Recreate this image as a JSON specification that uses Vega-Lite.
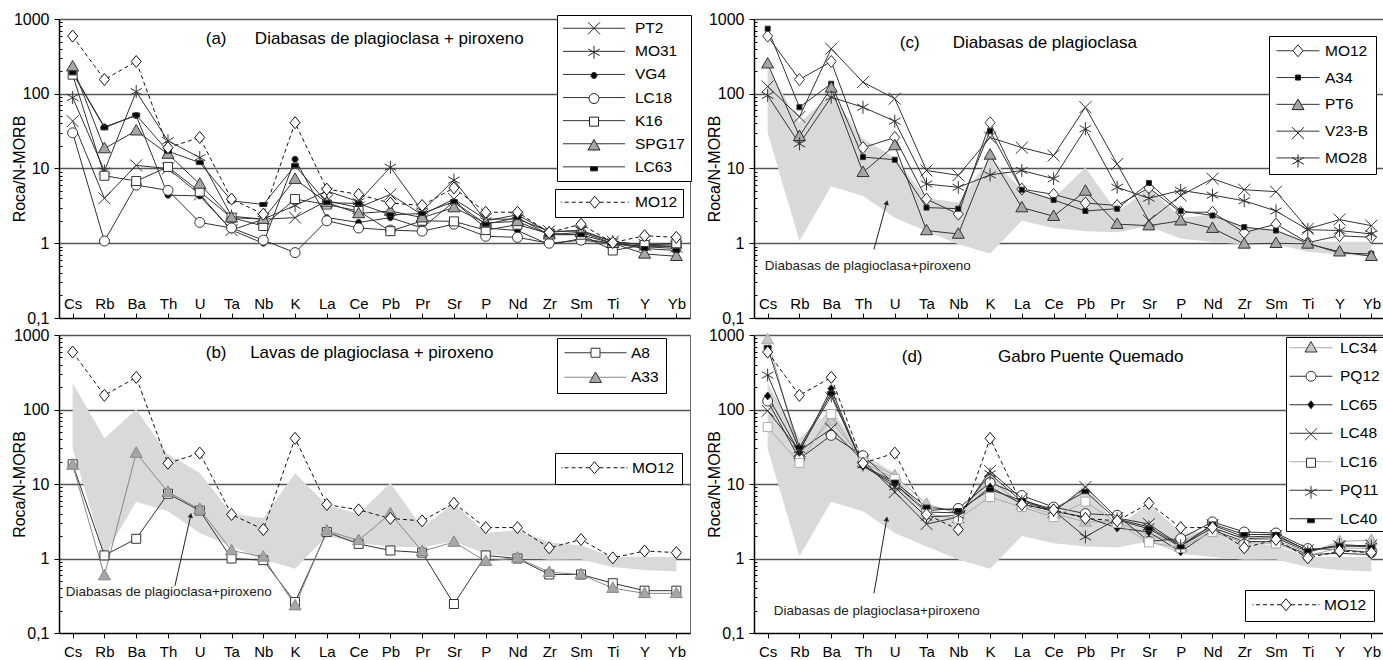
{
"$schema": "https://vega.github.io/schema/vega-lite/v6.json",
"background": "white",
"padding": {"left": 10, "top": 10, "right": 0, "bottom": 0},
"autosize": {"type": "pad"},
"config": {"view": {"stroke": "#666", "strokeWidth": 1}, "font": "Liberation Sans"},
"datasets": {
"a": [
{"s":"PT2","el":"Cs","v":43},{"s":"PT2","el":"Rb","v":4},{"s":"PT2","el":"Ba","v":11},{"s":"PT2","el":"Th","v":10},{"s":"PT2","el":"U","v":4.5},{"s":"PT2","el":"Ta","v":1.5},{"s":"PT2","el":"Nb","v":2.1},{"s":"PT2","el":"K","v":2.2},{"s":"PT2","el":"La","v":3.7},{"s":"PT2","el":"Ce","v":3},{"s":"PT2","el":"Pb","v":4.5},{"s":"PT2","el":"Pr","v":2.4},{"s":"PT2","el":"Sr","v":3.9},{"s":"PT2","el":"P","v":2.1},{"s":"PT2","el":"Nd","v":2.1},{"s":"PT2","el":"Zr","v":1.45},{"s":"PT2","el":"Sm","v":1.45},{"s":"PT2","el":"Ti","v":1.05},{"s":"PT2","el":"Y","v":0.95},{"s":"PT2","el":"Yb","v":0.9},
{"s":"MO31","el":"Cs","v":89},{"s":"MO31","el":"Rb","v":9.3},{"s":"MO31","el":"Ba","v":107},{"s":"MO31","el":"Th","v":23.5},{"s":"MO31","el":"U","v":14},{"s":"MO31","el":"Ta","v":2.3},{"s":"MO31","el":"Nb","v":2.1},{"s":"MO31","el":"K","v":3.2},{"s":"MO31","el":"La","v":5},{"s":"MO31","el":"Ce","v":3.6},{"s":"MO31","el":"Pb","v":10.4},{"s":"MO31","el":"Pr","v":2.7},{"s":"MO31","el":"Sr","v":7},{"s":"MO31","el":"P","v":2},{"s":"MO31","el":"Nd","v":2.4},{"s":"MO31","el":"Zr","v":1.4},{"s":"MO31","el":"Sm","v":1.5},{"s":"MO31","el":"Ti","v":1.05},{"s":"MO31","el":"Y","v":0.95},{"s":"MO31","el":"Yb","v":0.95},
{"s":"VG4","el":"Cs","v":193},{"s":"VG4","el":"Rb","v":36},{"s":"VG4","el":"Ba","v":51},{"s":"VG4","el":"Th","v":4.4},{"s":"VG4","el":"U","v":4.3},{"s":"VG4","el":"Ta","v":1.5},{"s":"VG4","el":"Nb","v":1},{"s":"VG4","el":"K","v":13.3},{"s":"VG4","el":"La","v":2.2},{"s":"VG4","el":"Ce","v":1.9},{"s":"VG4","el":"Pb","v":2.2},{"s":"VG4","el":"Pr","v":1.6},{"s":"VG4","el":"Sr","v":3.6},{"s":"VG4","el":"P","v":1.6},{"s":"VG4","el":"Nd","v":1.48},{"s":"VG4","el":"Zr","v":0.96},{"s":"VG4","el":"Sm","v":1.15},{"s":"VG4","el":"Ti","v":1},{"s":"VG4","el":"Y","v":0.9},{"s":"VG4","el":"Yb","v":0.85},
{"s":"LC18","el":"Cs","v":30},{"s":"LC18","el":"Rb","v":1.07},{"s":"LC18","el":"Ba","v":6},{"s":"LC18","el":"Th","v":5.1},{"s":"LC18","el":"U","v":1.9},{"s":"LC18","el":"Ta","v":1.6},{"s":"LC18","el":"Nb","v":1.1},{"s":"LC18","el":"K","v":0.75},{"s":"LC18","el":"La","v":2},{"s":"LC18","el":"Ce","v":1.6},{"s":"LC18","el":"Pb","v":1.5},{"s":"LC18","el":"Pr","v":1.45},{"s":"LC18","el":"Sr","v":1.8},{"s":"LC18","el":"P","v":1.24},{"s":"LC18","el":"Nd","v":1.2},{"s":"LC18","el":"Zr","v":1},{"s":"LC18","el":"Sm","v":1.1},{"s":"LC18","el":"Ti","v":1},{"s":"LC18","el":"Y","v":0.9},{"s":"LC18","el":"Yb","v":0.9},
{"s":"K16","el":"Cs","v":180},{"s":"K16","el":"Rb","v":8},{"s":"K16","el":"Ba","v":6.8},{"s":"K16","el":"Th","v":10.5},{"s":"K16","el":"U","v":4.9},{"s":"K16","el":"Ta","v":2.2},{"s":"K16","el":"Nb","v":1.7},{"s":"K16","el":"K","v":3.9},{"s":"K16","el":"La","v":3.3},{"s":"K16","el":"Ce","v":2.7},{"s":"K16","el":"Pb","v":1.45},{"s":"K16","el":"Pr","v":2},{"s":"K16","el":"Sr","v":1.96},{"s":"K16","el":"P","v":1.5},{"s":"K16","el":"Nd","v":1.77},{"s":"K16","el":"Zr","v":1.35},{"s":"K16","el":"Sm","v":1.3},{"s":"K16","el":"Ti","v":0.8},{"s":"K16","el":"Y","v":0.95},{"s":"K16","el":"Yb","v":1},
{"s":"SPG17","el":"Cs","v":230},{"s":"SPG17","el":"Rb","v":18.5},{"s":"SPG17","el":"Ba","v":32},{"s":"SPG17","el":"Th","v":15.6},{"s":"SPG17","el":"U","v":6.2},{"s":"SPG17","el":"Ta","v":2.2},{"s":"SPG17","el":"Nb","v":2.1},{"s":"SPG17","el":"K","v":7.2},{"s":"SPG17","el":"La","v":3.5},{"s":"SPG17","el":"Ce","v":2.5},{"s":"SPG17","el":"Pb","v":2.7},{"s":"SPG17","el":"Pr","v":2.2},{"s":"SPG17","el":"Sr","v":3},{"s":"SPG17","el":"P","v":1.87},{"s":"SPG17","el":"Nd","v":1.96},{"s":"SPG17","el":"Zr","v":1.3},{"s":"SPG17","el":"Sm","v":1.4},{"s":"SPG17","el":"Ti","v":1},{"s":"SPG17","el":"Y","v":0.72},{"s":"SPG17","el":"Yb","v":0.67},
{"s":"LC63","el":"Cs","v":190},{"s":"LC63","el":"Rb","v":35},{"s":"LC63","el":"Ba","v":52},{"s":"LC63","el":"Th","v":17},{"s":"LC63","el":"U","v":12},{"s":"LC63","el":"Ta","v":3.7},{"s":"LC63","el":"Nb","v":3.3},{"s":"LC63","el":"K","v":10.9},{"s":"LC63","el":"La","v":3.5},{"s":"LC63","el":"Ce","v":3.4},{"s":"LC63","el":"Pb","v":2.4},{"s":"LC63","el":"Pr","v":2.5},{"s":"LC63","el":"Sr","v":3.6},{"s":"LC63","el":"P","v":1.8},{"s":"LC63","el":"Nd","v":2.2},{"s":"LC63","el":"Zr","v":1.3},{"s":"LC63","el":"Sm","v":1.3},{"s":"LC63","el":"Ti","v":1},{"s":"LC63","el":"Y","v":0.85},{"s":"LC63","el":"Yb","v":0.8}
],
"b": [
{"s":"A8","el":"Cs","v":18.4},{"s":"A8","el":"Rb","v":1.1},{"s":"A8","el":"Ba","v":1.84},{"s":"A8","el":"Th","v":7.4},{"s":"A8","el":"U","v":4.4},{"s":"A8","el":"Ta","v":1},{"s":"A8","el":"Nb","v":0.95},{"s":"A8","el":"K","v":0.26},{"s":"A8","el":"La","v":2.26},{"s":"A8","el":"Ce","v":1.57},{"s":"A8","el":"Pb","v":1.28},{"s":"A8","el":"Pr","v":1.2},{"s":"A8","el":"Sr","v":0.245},{"s":"A8","el":"P","v":1.1},{"s":"A8","el":"Nd","v":1},{"s":"A8","el":"Zr","v":0.61},{"s":"A8","el":"Sm","v":0.61},{"s":"A8","el":"Ti","v":0.466},{"s":"A8","el":"Y","v":0.37},{"s":"A8","el":"Yb","v":0.37},
{"s":"A33","el":"Cs","v":18},{"s":"A33","el":"Rb","v":0.59},{"s":"A33","el":"Ba","v":26},{"s":"A33","el":"Th","v":7.8},{"s":"A33","el":"U","v":4.6},{"s":"A33","el":"Ta","v":1.28},{"s":"A33","el":"Nb","v":1.05},{"s":"A33","el":"K","v":0.233},{"s":"A33","el":"La","v":2.35},{"s":"A33","el":"Ce","v":1.75},{"s":"A33","el":"Pb","v":4},{"s":"A33","el":"Pr","v":1.25},{"s":"A33","el":"Sr","v":1.66},{"s":"A33","el":"P","v":0.92},{"s":"A33","el":"Nd","v":1.02},{"s":"A33","el":"Zr","v":0.655},{"s":"A33","el":"Sm","v":0.61},{"s":"A33","el":"Ti","v":0.4},{"s":"A33","el":"Y","v":0.34},{"s":"A33","el":"Yb","v":0.34}
],
"c": [
{"s":"MO12","el":"Cs","v":590},{"s":"MO12","el":"Rb","v":155},{"s":"MO12","el":"Ba","v":270},{"s":"MO12","el":"Th","v":19},{"s":"MO12","el":"U","v":26},{"s":"MO12","el":"Ta","v":3.9},{"s":"MO12","el":"Nb","v":2.45},{"s":"MO12","el":"K","v":41},{"s":"MO12","el":"La","v":5.3},{"s":"MO12","el":"Ce","v":4.5},{"s":"MO12","el":"Pb","v":3.45},{"s":"MO12","el":"Pr","v":3.2},{"s":"MO12","el":"Sr","v":5.5},{"s":"MO12","el":"P","v":2.6},{"s":"MO12","el":"Nd","v":2.6},{"s":"MO12","el":"Zr","v":1.39},{"s":"MO12","el":"Sm","v":1.8},{"s":"MO12","el":"Ti","v":1.02},{"s":"MO12","el":"Y","v":1.26},{"s":"MO12","el":"Yb","v":1.2},
{"s":"A34","el":"Cs","v":742},{"s":"A34","el":"Rb","v":66},{"s":"A34","el":"Ba","v":136},{"s":"A34","el":"Th","v":14.2},{"s":"A34","el":"U","v":13.1},{"s":"A34","el":"Ta","v":3},{"s":"A34","el":"Nb","v":2.9},{"s":"A34","el":"K","v":31.6},{"s":"A34","el":"La","v":5.2},{"s":"A34","el":"Ce","v":3.8},{"s":"A34","el":"Pb","v":2.7},{"s":"A34","el":"Pr","v":2.9},{"s":"A34","el":"Sr","v":6.4},{"s":"A34","el":"P","v":2.7},{"s":"A34","el":"Nd","v":2.35},{"s":"A34","el":"Zr","v":1.64},{"s":"A34","el":"Sm","v":1.48},{"s":"A34","el":"Ti","v":1},{"s":"A34","el":"Y","v":0.74},{"s":"A34","el":"Yb","v":0.72},
{"s":"PT6","el":"Cs","v":252},{"s":"PT6","el":"Rb","v":27},{"s":"PT6","el":"Ba","v":120},{"s":"PT6","el":"Th","v":8.9},{"s":"PT6","el":"U","v":20.3},{"s":"PT6","el":"Ta","v":1.48},{"s":"PT6","el":"Nb","v":1.33},{"s":"PT6","el":"K","v":15.2},{"s":"PT6","el":"La","v":3},{"s":"PT6","el":"Ce","v":2.3},{"s":"PT6","el":"Pb","v":5},{"s":"PT6","el":"Pr","v":1.8},{"s":"PT6","el":"Sr","v":1.72},{"s":"PT6","el":"P","v":2},{"s":"PT6","el":"Nd","v":1.59},{"s":"PT6","el":"Zr","v":0.98},{"s":"PT6","el":"Sm","v":1},{"s":"PT6","el":"Ti","v":0.98},{"s":"PT6","el":"Y","v":0.77},{"s":"PT6","el":"Yb","v":0.67},
{"s":"V23-B","el":"Cs","v":125},{"s":"V23-B","el":"Rb","v":49},{"s":"V23-B","el":"Ba","v":400},{"s":"V23-B","el":"Th","v":143},{"s":"V23-B","el":"U","v":86},{"s":"V23-B","el":"Ta","v":9.4},{"s":"V23-B","el":"Nb","v":8.1},{"s":"V23-B","el":"K","v":26},{"s":"V23-B","el":"La","v":19},{"s":"V23-B","el":"Ce","v":14.9},{"s":"V23-B","el":"Pb","v":66},{"s":"V23-B","el":"Pr","v":11.5},{"s":"V23-B","el":"Sr","v":2},{"s":"V23-B","el":"P","v":4.35},{"s":"V23-B","el":"Nd","v":7.3},{"s":"V23-B","el":"Zr","v":5.2},{"s":"V23-B","el":"Sm","v":4.9},{"s":"V23-B","el":"Ti","v":1.56},{"s":"V23-B","el":"Y","v":2.07},{"s":"V23-B","el":"Yb","v":1.72},
{"s":"MO28","el":"Cs","v":95},{"s":"MO28","el":"Rb","v":21.4},{"s":"MO28","el":"Ba","v":90},{"s":"MO28","el":"Th","v":66},{"s":"MO28","el":"U","v":43},{"s":"MO28","el":"Ta","v":6.2},{"s":"MO28","el":"Nb","v":5.6},{"s":"MO28","el":"K","v":8.2},{"s":"MO28","el":"La","v":9.4},{"s":"MO28","el":"Ce","v":7.3},{"s":"MO28","el":"Pb","v":34},{"s":"MO28","el":"Pr","v":5.6},{"s":"MO28","el":"Sr","v":4},{"s":"MO28","el":"P","v":5.1},{"s":"MO28","el":"Nd","v":4.4},{"s":"MO28","el":"Zr","v":3.7},{"s":"MO28","el":"Sm","v":2.7},{"s":"MO28","el":"Ti","v":1.52},{"s":"MO28","el":"Y","v":1.48},{"s":"MO28","el":"Yb","v":1.33}
],
"d": [
{"s":"LC34","el":"Cs","v":870},{"s":"LC34","el":"Rb","v":25},{"s":"LC34","el":"Ba","v":70},{"s":"LC34","el":"Th","v":21.7},{"s":"LC34","el":"U","v":13},{"s":"LC34","el":"Ta","v":5.4},{"s":"LC34","el":"Nb","v":4},{"s":"LC34","el":"K","v":11.7},{"s":"LC34","el":"La","v":5.2},{"s":"LC34","el":"Ce","v":4},{"s":"LC34","el":"Pb","v":3.1},{"s":"LC34","el":"Pr","v":3.1},{"s":"LC34","el":"Sr","v":2.05},{"s":"LC34","el":"P","v":1.67},{"s":"LC34","el":"Nd","v":2.65},{"s":"LC34","el":"Zr","v":1.8},{"s":"LC34","el":"Sm","v":1.8},{"s":"LC34","el":"Ti","v":1.17},{"s":"LC34","el":"Y","v":1.7},{"s":"LC34","el":"Yb","v":1.76},
{"s":"PQ12","el":"Cs","v":130},{"s":"PQ12","el":"Rb","v":21.7},{"s":"PQ12","el":"Ba","v":45},{"s":"PQ12","el":"Th","v":24},{"s":"PQ12","el":"U","v":10},{"s":"PQ12","el":"Ta","v":4.4},{"s":"PQ12","el":"Nb","v":4.7},{"s":"PQ12","el":"K","v":10.4},{"s":"PQ12","el":"La","v":7},{"s":"PQ12","el":"Ce","v":4.9},{"s":"PQ12","el":"Pb","v":4},{"s":"PQ12","el":"Pr","v":3.8},{"s":"PQ12","el":"Sr","v":1.7},{"s":"PQ12","el":"P","v":1.85},{"s":"PQ12","el":"Nd","v":3.1},{"s":"PQ12","el":"Zr","v":2.27},{"s":"PQ12","el":"Sm","v":2.2},{"s":"PQ12","el":"Ti","v":1.36},{"s":"PQ12","el":"Y","v":1.32},{"s":"PQ12","el":"Yb","v":1.2},
{"s":"LC65","el":"Cs","v":152},{"s":"LC65","el":"Rb","v":26.6},{"s":"LC65","el":"Ba","v":190},{"s":"LC65","el":"Th","v":17.3},{"s":"LC65","el":"U","v":10},{"s":"LC65","el":"Ta","v":4.2},{"s":"LC65","el":"Nb","v":4.1},{"s":"LC65","el":"K","v":9.1},{"s":"LC65","el":"La","v":5.4},{"s":"LC65","el":"Ce","v":4.3},{"s":"LC65","el":"Pb","v":3.6},{"s":"LC65","el":"Pr","v":2.57},{"s":"LC65","el":"Sr","v":2.27},{"s":"LC65","el":"P","v":1.23},{"s":"LC65","el":"Nd","v":2.4},{"s":"LC65","el":"Zr","v":1.7},{"s":"LC65","el":"Sm","v":1.67},{"s":"LC65","el":"Ti","v":1.13},{"s":"LC65","el":"Y","v":1.17},{"s":"LC65","el":"Yb","v":1.13},
{"s":"LC48","el":"Cs","v":96},{"s":"LC48","el":"Rb","v":28},{"s":"LC48","el":"Ba","v":55},{"s":"LC48","el":"Th","v":20.6},{"s":"LC48","el":"U","v":7.8},{"s":"LC48","el":"Ta","v":2.9},{"s":"LC48","el":"Nb","v":3.6},{"s":"LC48","el":"K","v":15},{"s":"LC48","el":"La","v":6.3},{"s":"LC48","el":"Ce","v":4.2},{"s":"LC48","el":"Pb","v":9.1},{"s":"LC48","el":"Pr","v":3.5},{"s":"LC48","el":"Sr","v":2.9},{"s":"LC48","el":"P","v":1.5},{"s":"LC48","el":"Nd","v":2.8},{"s":"LC48","el":"Zr","v":1.95},{"s":"LC48","el":"Sm","v":2},{"s":"LC48","el":"Ti","v":1.29},{"s":"LC48","el":"Y","v":1.46},{"s":"LC48","el":"Yb","v":1.5},
{"s":"LC16","el":"Cs","v":58},{"s":"LC16","el":"Rb","v":19.2},{"s":"LC16","el":"Ba","v":87},{"s":"LC16","el":"Th","v":19.5},{"s":"LC16","el":"U","v":11.7},{"s":"LC16","el":"Ta","v":4},{"s":"LC16","el":"Nb","v":3.4},{"s":"LC16","el":"K","v":6.7},{"s":"LC16","el":"La","v":4.9},{"s":"LC16","el":"Ce","v":3.6},{"s":"LC16","el":"Pb","v":5.8},{"s":"LC16","el":"Pr","v":3},{"s":"LC16","el":"Sr","v":1.64},{"s":"LC16","el":"P","v":1.39},{"s":"LC16","el":"Nd","v":2.27},{"s":"LC16","el":"Zr","v":1.64},{"s":"LC16","el":"Sm","v":1.59},{"s":"LC16","el":"Ti","v":1.09},{"s":"LC16","el":"Y","v":1.39},{"s":"LC16","el":"Yb","v":1.36},
{"s":"PQ11","el":"Cs","v":290},{"s":"PQ11","el":"Rb","v":29},{"s":"PQ11","el":"Ba","v":152},{"s":"PQ11","el":"Th","v":18},{"s":"PQ11","el":"U","v":9.1},{"s":"PQ11","el":"Ta","v":3.6},{"s":"PQ11","el":"Nb","v":3.8},{"s":"PQ11","el":"K","v":13.7},{"s":"PQ11","el":"La","v":5.8},{"s":"PQ11","el":"Ce","v":4.4},{"s":"PQ11","el":"Pb","v":1.95},{"s":"PQ11","el":"Pr","v":3.4},{"s":"PQ11","el":"Sr","v":2.65},{"s":"PQ11","el":"P","v":1.48},{"s":"PQ11","el":"Nd","v":2.57},{"s":"PQ11","el":"Zr","v":1.85},{"s":"PQ11","el":"Sm","v":1.9},{"s":"PQ11","el":"Ti","v":1.23},{"s":"PQ11","el":"Y","v":1.54},{"s":"PQ11","el":"Yb","v":1.46},
{"s":"LC40","el":"Cs","v":680},{"s":"LC40","el":"Rb","v":31},{"s":"LC40","el":"Ba","v":165},{"s":"LC40","el":"Th","v":17.6},{"s":"LC40","el":"U","v":10.6},{"s":"LC40","el":"Ta","v":4.9},{"s":"LC40","el":"Nb","v":4.4},{"s":"LC40","el":"K","v":8.4},{"s":"LC40","el":"La","v":6},{"s":"LC40","el":"Ce","v":4.6},{"s":"LC40","el":"Pb","v":7.9},{"s":"LC40","el":"Pr","v":3.3},{"s":"LC40","el":"Sr","v":2.5},{"s":"LC40","el":"P","v":1.43},{"s":"LC40","el":"Nd","v":2.9},{"s":"LC40","el":"Zr","v":2.1},{"s":"LC40","el":"Sm","v":2.1},{"s":"LC40","el":"Ti","v":1.27},{"s":"LC40","el":"Y","v":1.5},{"s":"LC40","el":"Yb","v":1.42}
],
"mo12": [
{"s":"MO12","el":"Cs","v":590},{"s":"MO12","el":"Rb","v":155},{"s":"MO12","el":"Ba","v":270},{"s":"MO12","el":"Th","v":19},{"s":"MO12","el":"U","v":26},{"s":"MO12","el":"Ta","v":3.9},{"s":"MO12","el":"Nb","v":2.45},{"s":"MO12","el":"K","v":41},{"s":"MO12","el":"La","v":5.3},{"s":"MO12","el":"Ce","v":4.5},{"s":"MO12","el":"Pb","v":3.45},{"s":"MO12","el":"Pr","v":3.2},{"s":"MO12","el":"Sr","v":5.5},{"s":"MO12","el":"P","v":2.6},{"s":"MO12","el":"Nd","v":2.6},{"s":"MO12","el":"Zr","v":1.39},{"s":"MO12","el":"Sm","v":1.8},{"s":"MO12","el":"Ti","v":1.02},{"s":"MO12","el":"Y","v":1.26},{"s":"MO12","el":"Yb","v":1.2}
],
"env": [
{"el":"Cs","lo":30,"hi":225},{"el":"Rb","lo":1.07,"hi":41},{"el":"Ba","lo":5.8,"hi":100},{"el":"Th","lo":4.3,"hi":25},{"el":"U","lo":2.2,"hi":14},{"el":"Ta","lo":1.45,"hi":4},{"el":"Nb","lo":0.97,"hi":3.5},{"el":"K","lo":0.73,"hi":14},{"el":"La","lo":2,"hi":5.2},{"el":"Ce","lo":1.6,"hi":4},{"el":"Pb","lo":1.45,"hi":10.3},{"el":"Pr","lo":1.4,"hi":2.6},{"el":"Sr","lo":1.7,"hi":5.5},{"el":"P","lo":1.15,"hi":2.2},{"el":"Nd","lo":1.05,"hi":2.4},{"el":"Zr","lo":0.96,"hi":1.65},{"el":"Sm","lo":0.97,"hi":1.5},{"el":"Ti","lo":0.77,"hi":1.05},{"el":"Y","lo":0.7,"hi":1.05},{"el":"Yb","lo":0.67,"hi":1.05}
],
"note": [{"t": "Diabasas de plagioclasa+piroxeno"}]
},
"columns": 2,
"spacing": {"row": 17, "column": 64},
"bounds": "flush",
"resolve": {"scale": {"x": "independent", "y": "independent", "shape": "independent", "fill": "independent", "stroke": "independent", "strokeDash": "independent"}},
"concat": [
{
"width": 631, "height": 299,
"layer": [
{"data": {"name": "a"}, "mark": {"type": "line", "strokeWidth": 1},
 "encoding": {
  "x": {"field": "el", "type": "nominal", "scale": {"type": "point", "domain": ["Cs","Rb","Ba","Th","U","Ta","Nb","K","La","Ce","Pb","Pr","Sr","P","Nd","Zr","Sm","Ti","Y","Yb"], "padding": 0.43}, "axis": {"title": null, "labelFont": "Liberation Sans", "labelFontSize": 15, "labelColor": "#000", "labelAngle": 0, "tickSize": -5, "labelPadding": -16.5, "tickColor": "#000", "domainColor": "#000", "domainWidth": 1.5, "grid": false, "labelOverlap": false}},
  "y": {"field": "v", "type": "quantitative", "scale": {"type": "log", "domain": [0.1, 1000]}, "axis": {"title": "Roca/N-MORB", "titleFont": "Liberation Sans", "titleFontSize": 16, "titleFontWeight": "normal", "titleColor": "#000", "titlePadding": -14, "values": [0.1,0.2,0.3,0.4,0.5,0.6,0.7,0.8,0.9,1,2,3,4,5,6,7,8,9,10,20,30,40,50,60,70,80,90,100,200,300,400,500,600,700,800,900,1000], "labelExpr": "indexof([0.1,1,10,100,1000], datum.value) < 0 ? '' : (datum.value < 1 ? '0,1' : format(datum.value, 'd'))", "labelFont": "Liberation Sans", "labelFontSize": 16, "labelColor": "#000", "labelPadding": 5, "labelOverlap": false, "tickColor": "#000", "tickSize": {"condition": {"test": "indexof([0.1,1,10,100,1000], datum.value) >= 0", "value": 5}, "value": -3}, "domainColor": "#000", "domainWidth": 1.5, "grid": true, "gridColor": "#555", "gridWidth": 1.5, "gridOpacity": {"condition": {"test": "indexof([1,10,100,1000], datum.value) >= 0", "value": 1}, "value": 0}}},
  "stroke": {"field": "s", "type": "nominal", "scale": {"domain": ["PT2","MO31","VG4","LC18","K16","SPG17","LC63"], "range": ["#333","#333","#333","#333","#333","#333","#333"]},
   "legend": {"title": null, "orient": "none", "legendX": 498, "legendY": -4, "symbolType": "M-6.2,0L6.2,0", "symbolSize": 100, "symbolStrokeWidth": 1, "symbolOffset": 23.75, "labelOffset": 33.25, "rowPadding": 6.1, "padding": 5.5, "labelFont": "Liberation Sans", "labelFontSize": 15.5, "labelColor": "#000", "strokeColor": "#000", "fillColor": "#fff"}},
  "order": {"value": null}}},
{"data": {"name": "mo12"}, "mark": {"type": "line", "strokeWidth": 1, "color": "#111"},
 "encoding": {
  "x": {"field": "el", "type": "nominal"},
  "y": {"field": "v", "type": "quantitative", "scale": {"type": "log", "domain": [0.1, 1000]}},
  "strokeDash": {"field": "s", "type": "nominal", "scale": {"domain": ["MO12"], "range": [[4,3]]},
   "legend": {"title": null, "orient": "none", "legendX": 496, "legendY": 170, "symbolType": "M-6.8,0L-6.6,0M-6,0L-5.2,0M-4.6,0L-3.8,0M-3.2,0L-2.4,0M-1.8,0L-1,0M1,0L1.8,0M2.4,0L3.2,0M3.8,0L4.6,0M5.2,0L6,0M6.6,0L6.8,0M0,-1.2L0.5,-0.6M0.5,-0.6L1,0M1,0L0.5,0.6M0.5,0.6L0,1.2M0,1.2L-0.5,0.6M-0.5,0.6L-1,0M-1,0L-0.5,-0.6M-0.5,-0.6L0,-1.2", "symbolSize": 100, "symbolStrokeWidth": 1, "symbolOffset": 26.5, "labelOffset": 32.5, "padding": 5.5, "labelFont": "Liberation Sans", "labelFontSize": 15.5, "labelColor": "#000", "strokeColor": "#000", "fillColor": "#fff"}},
  "order": {"value": null}}},
{"data": {"name": "a"}, "mark": {"type": "point", "size": 100, "strokeWidth": 1, "opacity": 1},
 "encoding": {
  "x": {"field": "el", "type": "nominal"},
  "y": {"field": "v", "type": "quantitative", "scale": {"type": "log", "domain": [0.1, 1000]}},
  "shape": {"field": "s", "type": "nominal", "scale": {"domain": ["PT2","MO31","VG4","LC18","K16","SPG17","LC63","_"], "range": ["M-1.2,-1.2L1.2,1.2M-1.2,1.2L1.2,-1.2","M0,-1.3L0,1.3M-1.15,-0.65L1.15,0.65M-1.15,0.65L1.15,-0.65","M0.6,0A0.6,0.6,0,1,1,-0.6,0A0.6,0.6,0,1,1,0.6,0Z","M1,0A1,1,0,1,1,-1,0A1,1,0,1,1,1,0Z","M-0.9,-0.9L0.9,-0.9L0.9,0.9L-0.9,0.9Z","M0,-1.25L1.2,0.85L-1.2,0.85Z","M-0.7,-0.4L0.7,-0.4L0.7,0.4L-0.7,0.4Z","circle"]},
   "legend": {"title": null, "orient": "none", "legendX": 498, "legendY": -4, "values": ["PT2","MO31","VG4","LC18","K16","SPG17","LC63"], "symbolSize": 100, "symbolStrokeWidth": 1, "symbolStrokeColor": "#222", "symbolFillColor": "#fff", "symbolOffset": 23.75, "labelOffset": 33.25, "rowPadding": 6.1, "padding": 5.5, "labelFont": "Liberation Sans", "labelFontSize": 15.5, "labelOpacity": 0, "labelExpr": "' '"}},
  "fill": {"field": "s", "type": "nominal", "scale": {"domain": ["PT2","MO31","VG4","LC18","K16","SPG17","LC63","_"], "range": ["white","white","black","white","white","#a6a6a6","black","white"]}},
  "stroke": {"field": "s", "type": "nominal"}}},
{"data": {"name": "mo12"}, "mark": {"type": "point", "shape": "M0,-1.2L1,0L0,1.2L-1,0Z", "size": 100, "fill": "white", "stroke": "#111", "strokeWidth": 1, "opacity": 1},
 "encoding": {
  "x": {"field": "el", "type": "nominal"},
  "y": {"field": "v", "type": "quantitative", "scale": {"type": "log", "domain": [0.1, 1000]}}}},
{"data": {"name": "note"}, "mark": {"type": "text", "text": "(a)\u00a0\u00a0\u00a0\u00a0\u00a0\u00a0Diabasas de plagioclasa + piroxeno", "align": "left", "baseline": "middle", "dx": 6, "font": "Liberation Sans", "fontSize": 17, "color": "#000"},
 "encoding": {"x": {"datum": "U"}, "y": {"datum": 540, "scale": {"type": "log", "domain": [0.1, 1000]}}}}
]
},
{
"width": 631, "height": 299,
"layer": [
{"data": {"name": "env"}, "mark": {"type": "area", "color": "#d9d9d9", "opacity": 1, "fillOpacity": 1},
 "encoding": {
  "x": {"field": "el", "type": "nominal", "scale": {"type": "point", "domain": ["Cs","Rb","Ba","Th","U","Ta","Nb","K","La","Ce","Pb","Pr","Sr","P","Nd","Zr","Sm","Ti","Y","Yb"], "padding": 0.43}, "axis": {"title": null, "labelFont": "Liberation Sans", "labelFontSize": 15, "labelColor": "#000", "labelAngle": 0, "tickSize": -5, "labelPadding": -16.5, "tickColor": "#000", "domainColor": "#000", "domainWidth": 1.5, "grid": false, "labelOverlap": false}},
  "y": {"field": "hi", "type": "quantitative", "scale": {"type": "log", "domain": [0.1, 1000]}, "axis": {"title": "Roca/N-MORB", "titleFont": "Liberation Sans", "titleFontSize": 16, "titleFontWeight": "normal", "titleColor": "#000", "titlePadding": -14, "values": [0.1,0.2,0.3,0.4,0.5,0.6,0.7,0.8,0.9,1,2,3,4,5,6,7,8,9,10,20,30,40,50,60,70,80,90,100,200,300,400,500,600,700,800,900,1000], "labelExpr": "indexof([0.1,1,10,100,1000], datum.value) < 0 ? '' : (datum.value < 1 ? '0,1' : format(datum.value, 'd'))", "labelFont": "Liberation Sans", "labelFontSize": 16, "labelColor": "#000", "labelPadding": 5, "labelOverlap": false, "tickColor": "#000", "tickSize": {"condition": {"test": "indexof([0.1,1,10,100,1000], datum.value) >= 0", "value": 5}, "value": -3}, "domainColor": "#000", "domainWidth": 1.5, "grid": true, "gridColor": "#555", "gridWidth": 1.5, "gridOpacity": {"condition": {"test": "indexof([1,10,100,1000], datum.value) >= 0", "value": 1}, "value": 0}}},
  "y2": {"field": "lo"},
  "order": {"value": null}}},
{"data": {"name": "c"}, "mark": {"type": "line", "strokeWidth": 1},
 "encoding": {
  "x": {"field": "el", "type": "nominal"},
  "y": {"field": "v", "type": "quantitative", "scale": {"type": "log", "domain": [0.1, 1000]}},
  "stroke": {"field": "s", "type": "nominal", "scale": {"domain": ["MO12","A34","PT6","V23-B","MO28"], "range": ["#333","#333","#333","#333","#333"]},
   "legend": {"title": null, "orient": "none", "legendX": 515, "legendY": 17, "symbolType": "M-4.3,0L4.3,0", "symbolSize": 100, "symbolStrokeWidth": 1, "symbolOffset": 14.25, "labelOffset": 19.25, "rowPadding": 9.8, "padding": 7, "labelFont": "Liberation Sans", "labelFontSize": 15.5, "labelColor": "#000", "strokeColor": "#000", "fillColor": "#fff"}},
  "order": {"value": null}}},
{"data": {"name": "c"}, "mark": {"type": "point", "size": 100, "strokeWidth": 1, "opacity": 1},
 "encoding": {
  "x": {"field": "el", "type": "nominal"},
  "y": {"field": "v", "type": "quantitative", "scale": {"type": "log", "domain": [0.1, 1000]}},
  "shape": {"field": "s", "type": "nominal", "scale": {"domain": ["MO12","A34","PT6","V23-B","MO28","_"], "range": ["M0,-1.2L1,0L0,1.2L-1,0Z","M-0.5,-0.5L0.5,-0.5L0.5,0.5L-0.5,0.5Z","M0,-1.25L1.2,0.85L-1.2,0.85Z","M-1.2,-1.2L1.2,1.2M-1.2,1.2L1.2,-1.2","M0,-1.3L0,1.3M-1.15,-0.65L1.15,0.65M-1.15,0.65L1.15,-0.65","circle"]},
   "legend": {"title": null, "orient": "none", "legendX": 515, "legendY": 17, "values": ["MO12","A34","PT6","V23-B","MO28"], "symbolSize": 100, "symbolStrokeWidth": 1, "symbolStrokeColor": "#222", "symbolFillColor": "#fff", "symbolOffset": 14.25, "labelOffset": 19.25, "rowPadding": 9.8, "padding": 7, "labelFont": "Liberation Sans", "labelFontSize": 15.5, "labelOpacity": 0, "labelExpr": "' '"}},
  "fill": {"field": "s", "type": "nominal", "scale": {"domain": ["MO12","A34","PT6","V23-B","MO28","_"], "range": ["white","black","#a6a6a6","white","white","white"]}},
  "stroke": {"field": "s", "type": "nominal"}}},
{"data": {"name": "note"}, "mark": {"type": "text", "align": "left", "baseline": "middle", "dx": -3, "font": "Liberation Sans", "fontSize": 13.5, "color": "#222"},
 "encoding": {"x": {"datum": "Cs"}, "y": {"datum": 0.49, "scale": {"type": "log", "domain": [0.1, 1000]}}, "text": {"field": "t"}}},
{"data": {"name": "note"}, "mark": {"type": "rule", "color": "#222", "strokeWidth": 1, "xOffset": 11, "x2Offset": -8},
 "encoding": {"x": {"datum": "Th"}, "x2": {"datum": "U"}, "y": {"datum": 0.83, "scale": {"type": "log", "domain": [0.1, 1000]}}, "y2": {"datum": 3.5}}},
{"data": {"name": "note"}, "mark": {"type": "point", "shape": "triangle-up", "filled": true, "color": "#222", "size": 30, "angle": 15, "xOffset": -8, "opacity": 1},
 "encoding": {"x": {"datum": "U"}, "y": {"datum": 3.5, "scale": {"type": "log", "domain": [0.1, 1000]}}}},
{"data": {"name": "note"}, "mark": {"type": "text", "text": "(c)\u00a0\u00a0\u00a0\u00a0\u00a0\u00a0\u00a0Diabasas de plagioclasa", "align": "left", "baseline": "middle", "dx": 5, "font": "Liberation Sans", "fontSize": 17, "color": "#000"},
 "encoding": {"x": {"datum": "U"}, "y": {"datum": 482, "scale": {"type": "log", "domain": [0.1, 1000]}}}}
]
},
{
"width": 631, "height": 298,
"layer": [
{"data": {"name": "env"}, "mark": {"type": "area", "color": "#d9d9d9", "opacity": 1, "fillOpacity": 1},
 "encoding": {
  "x": {"field": "el", "type": "nominal", "scale": {"type": "point", "domain": ["Cs","Rb","Ba","Th","U","Ta","Nb","K","La","Ce","Pb","Pr","Sr","P","Nd","Zr","Sm","Ti","Y","Yb"], "padding": 0.43}, "axis": {"title": null, "labelFont": "Liberation Sans", "labelFontSize": 15, "labelColor": "#000", "labelAngle": 0, "tickSize": 5, "labelPadding": 6.5, "tickColor": "#000", "domainColor": "#000", "domainWidth": 1.5, "grid": false, "labelOverlap": false}},
  "y": {"field": "hi", "type": "quantitative", "scale": {"type": "log", "domain": [0.1, 1000]}, "axis": {"title": "Roca/N-MORB", "titleFont": "Liberation Sans", "titleFontSize": 16, "titleFontWeight": "normal", "titleColor": "#000", "titlePadding": -14, "values": [0.1,0.2,0.3,0.4,0.5,0.6,0.7,0.8,0.9,1,2,3,4,5,6,7,8,9,10,20,30,40,50,60,70,80,90,100,200,300,400,500,600,700,800,900,1000], "labelExpr": "indexof([0.1,1,10,100,1000], datum.value) < 0 ? '' : (datum.value < 1 ? '0,1' : format(datum.value, 'd'))", "labelFont": "Liberation Sans", "labelFontSize": 16, "labelColor": "#000", "labelPadding": 5, "labelOverlap": false, "tickColor": "#000", "tickSize": {"condition": {"test": "indexof([0.1,1,10,100,1000], datum.value) >= 0", "value": 5}, "value": -3}, "domainColor": "#000", "domainWidth": 1.5, "grid": true, "gridColor": "#555", "gridWidth": 1.5, "gridOpacity": {"condition": {"test": "indexof([1,10,100,1000], datum.value) >= 0", "value": 1}, "value": 0}}},
  "y2": {"field": "lo"},
  "order": {"value": null}}},
{"data": {"name": "b"}, "mark": {"type": "line", "strokeWidth": 1},
 "encoding": {
  "x": {"field": "el", "type": "nominal"},
  "y": {"field": "v", "type": "quantitative", "scale": {"type": "log", "domain": [0.1, 1000]}},
  "stroke": {"field": "s", "type": "nominal", "scale": {"domain": ["A8","A33"], "range": ["#333","#888"]},
   "legend": {"title": null, "orient": "none", "legendX": 498, "legendY": 3, "symbolType": "M-6.2,0L6.2,0", "symbolSize": 100, "symbolStrokeWidth": 1, "symbolOffset": 23.75, "labelOffset": 27.75, "rowPadding": 7.5, "padding": 7, "labelFont": "Liberation Sans", "labelFontSize": 15.5, "labelColor": "#000", "strokeColor": "#000", "fillColor": "#fff"}},
  "order": {"value": null}}},
{"data": {"name": "mo12"}, "mark": {"type": "line", "strokeWidth": 1, "color": "#111"},
 "encoding": {
  "x": {"field": "el", "type": "nominal"},
  "y": {"field": "v", "type": "quantitative", "scale": {"type": "log", "domain": [0.1, 1000]}},
  "strokeDash": {"field": "s", "type": "nominal", "scale": {"domain": ["MO12"], "range": [[4,3]]},
   "legend": {"title": null, "orient": "none", "legendX": 496, "legendY": 118, "symbolType": "M-6.6,0L-6.4,0M-6,0L-5.2,0M-4.6,0L-3.8,0M-3.2,0L-2.4,0M-1.8,0L-1,0M1,0L1.8,0M2.4,0L3.2,0M3.8,0L4.6,0M5.2,0L6,0M6.4,0L6.6,0M0,-1.2L0.5,-0.6M0.5,-0.6L1,0M1,0L0.5,0.6M0.5,0.6L0,1.2M0,1.2L-0.5,0.6M-0.5,0.6L-1,0M-1,0L-0.5,-0.6M-0.5,-0.6L0,-1.2", "symbolSize": 100, "symbolStrokeWidth": 1, "symbolOffset": 24.75, "labelOffset": 29.75, "padding": 7, "labelFont": "Liberation Sans", "labelFontSize": 15.5, "labelColor": "#000", "strokeColor": "#000", "fillColor": "#fff"}},
  "order": {"value": null}}},
{"data": {"name": "b"}, "mark": {"type": "point", "size": 100, "strokeWidth": 1, "opacity": 1},
 "encoding": {
  "x": {"field": "el", "type": "nominal"},
  "y": {"field": "v", "type": "quantitative", "scale": {"type": "log", "domain": [0.1, 1000]}},
  "shape": {"field": "s", "type": "nominal", "scale": {"domain": ["A8","A33","_"], "range": ["M-0.9,-0.9L0.9,-0.9L0.9,0.9L-0.9,0.9Z","M0,-1.25L1.2,0.85L-1.2,0.85Z","circle"]},
   "legend": {"title": null, "orient": "none", "legendX": 498, "legendY": 3, "values": ["A8","A33"], "symbolSize": 100, "symbolStrokeWidth": 1, "symbolStrokeColor": "#333", "symbolFillColor": "#fff", "symbolOffset": 23.75, "labelOffset": 27.75, "rowPadding": 7.5, "padding": 7, "labelFont": "Liberation Sans", "labelFontSize": 15.5, "labelOpacity": 0, "labelExpr": "' '"}},
  "fill": {"field": "s", "type": "nominal", "scale": {"domain": ["A8","A33","_"], "range": ["white","#a6a6a6","white"]}},
  "stroke": {"field": "s", "type": "nominal"}}},
{"data": {"name": "mo12"}, "mark": {"type": "point", "shape": "M0,-1.2L1,0L0,1.2L-1,0Z", "size": 100, "fill": "white", "stroke": "#111", "strokeWidth": 1, "opacity": 1},
 "encoding": {
  "x": {"field": "el", "type": "nominal"},
  "y": {"field": "v", "type": "quantitative", "scale": {"type": "log", "domain": [0.1, 1000]}}}},
{"data": {"name": "note"}, "mark": {"type": "text", "align": "left", "baseline": "middle", "dx": -7, "font": "Liberation Sans", "fontSize": 13.5, "color": "#222"},
 "encoding": {"x": {"datum": "Cs"}, "y": {"datum": 0.35, "scale": {"type": "log", "domain": [0.1, 1000]}}, "text": {"field": "t"}}},
{"data": {"name": "note"}, "mark": {"type": "rule", "color": "#222", "strokeWidth": 1, "xOffset": 7, "x2Offset": -9},
 "encoding": {"x": {"datum": "Th"}, "x2": {"datum": "U"}, "y": {"datum": 0.43, "scale": {"type": "log", "domain": [0.1, 1000]}}, "y2": {"datum": 3.8}}},
{"data": {"name": "note"}, "mark": {"type": "point", "shape": "triangle-up", "filled": true, "color": "#222", "size": 30, "angle": 13, "xOffset": -9, "opacity": 1},
 "encoding": {"x": {"datum": "U"}, "y": {"datum": 3.8, "scale": {"type": "log", "domain": [0.1, 1000]}}}},
{"data": {"name": "note"}, "mark": {"type": "text", "text": "(b)\u00a0\u00a0\u00a0\u00a0\u00a0Lavas de plagioclasa + piroxeno", "align": "left", "baseline": "middle", "dx": 6, "font": "Liberation Sans", "fontSize": 17, "color": "#000"},
 "encoding": {"x": {"datum": "U"}, "y": {"datum": 573, "scale": {"type": "log", "domain": [0.1, 1000]}}}}
]
},
{
"width": 631, "height": 298,
"layer": [
{"data": {"name": "env"}, "mark": {"type": "area", "color": "#d9d9d9", "opacity": 1, "fillOpacity": 1},
 "encoding": {
  "x": {"field": "el", "type": "nominal", "scale": {"type": "point", "domain": ["Cs","Rb","Ba","Th","U","Ta","Nb","K","La","Ce","Pb","Pr","Sr","P","Nd","Zr","Sm","Ti","Y","Yb"], "padding": 0.43}, "axis": {"title": null, "labelFont": "Liberation Sans", "labelFontSize": 15, "labelColor": "#000", "labelAngle": 0, "tickSize": 5, "labelPadding": 6.5, "tickColor": "#000", "domainColor": "#000", "domainWidth": 1.5, "grid": false, "labelOverlap": false}},
  "y": {"field": "hi", "type": "quantitative", "scale": {"type": "log", "domain": [0.1, 1000]}, "axis": {"title": "Roca/N-MORB", "titleFont": "Liberation Sans", "titleFontSize": 16, "titleFontWeight": "normal", "titleColor": "#000", "titlePadding": -14, "values": [0.1,0.2,0.3,0.4,0.5,0.6,0.7,0.8,0.9,1,2,3,4,5,6,7,8,9,10,20,30,40,50,60,70,80,90,100,200,300,400,500,600,700,800,900,1000], "labelExpr": "indexof([0.1,1,10,100,1000], datum.value) < 0 ? '' : (datum.value < 1 ? '0,1' : format(datum.value, 'd'))", "labelFont": "Liberation Sans", "labelFontSize": 16, "labelColor": "#000", "labelPadding": 5, "labelOverlap": false, "tickColor": "#000", "tickSize": {"condition": {"test": "indexof([0.1,1,10,100,1000], datum.value) >= 0", "value": 5}, "value": -3}, "domainColor": "#000", "domainWidth": 1.5, "grid": true, "gridColor": "#555", "gridWidth": 1.5, "gridOpacity": {"condition": {"test": "indexof([1,10,100,1000], datum.value) >= 0", "value": 1}, "value": 0}}},
  "y2": {"field": "lo"},
  "order": {"value": null}}},
{"data": {"name": "d"}, "mark": {"type": "line", "strokeWidth": 1},
 "encoding": {
  "x": {"field": "el", "type": "nominal"},
  "y": {"field": "v", "type": "quantitative", "scale": {"type": "log", "domain": [0.1, 1000]}},
  "stroke": {"field": "s", "type": "nominal", "scale": {"domain": ["LC34","PQ12","LC65","LC48","LC16","PQ11","LC40"], "range": ["#aaa","#333","#333","#333","#aaa","#333","#333"]},
   "legend": {"title": null, "orient": "none", "legendX": 532, "legendY": 2, "symbolType": "M-4.3,0L4.3,0", "symbolSize": 100, "symbolStrokeWidth": 1, "symbolOffset": 14.25, "labelOffset": 21.25, "rowPadding": 11.5, "padding": 3, "labelFont": "Liberation Sans", "labelFontSize": 15.5, "labelColor": "#000", "strokeColor": "#000", "fillColor": "#fff"}},
  "order": {"value": null}}},
{"data": {"name": "mo12"}, "mark": {"type": "line", "strokeWidth": 1, "color": "#111"},
 "encoding": {
  "x": {"field": "el", "type": "nominal"},
  "y": {"field": "v", "type": "quantitative", "scale": {"type": "log", "domain": [0.1, 1000]}},
  "strokeDash": {"field": "s", "type": "nominal", "scale": {"domain": ["MO12"], "range": [[4,3]]},
   "legend": {"title": null, "orient": "none", "legendX": 491, "legendY": 255, "symbolType": "M-6.7,0L-6.5,0M-6,0L-5.2,0M-4.6,0L-3.8,0M-3.2,0L-2.4,0M-1.8,0L-1,0M1,0L1.8,0M2.4,0L3.2,0M3.8,0L4.6,0M5.2,0L6,0M6.5,0L6.7,0M0,-1.2L0.5,-0.6M0.5,-0.6L1,0M1,0L0.5,0.6M0.5,0.6L0,1.2M0,1.2L-0.5,0.6M-0.5,0.6L-1,0M-1,0L-0.5,-0.6M-0.5,-0.6L0,-1.2", "symbolSize": 100, "symbolStrokeWidth": 1, "symbolOffset": 26.25, "labelOffset": 30.25, "padding": 7, "labelFont": "Liberation Sans", "labelFontSize": 15.5, "labelColor": "#000", "strokeColor": "#000", "fillColor": "#fff"}},
  "order": {"value": null}}},
{"data": {"name": "d"}, "mark": {"type": "point", "size": 100, "strokeWidth": 1, "opacity": 1},
 "encoding": {
  "x": {"field": "el", "type": "nominal"},
  "y": {"field": "v", "type": "quantitative", "scale": {"type": "log", "domain": [0.1, 1000]}},
  "shape": {"field": "s", "type": "nominal", "scale": {"domain": ["LC34","PQ12","LC65","LC48","LC16","PQ11","LC40","_"], "range": ["M0,-1.25L1.2,0.85L-1.2,0.85Z","M1,0A1,1,0,1,1,-1,0A1,1,0,1,1,1,0Z","M0,-0.8L0.65,0L0,0.8L-0.65,0Z","M-1.2,-1.2L1.2,1.2M-1.2,1.2L1.2,-1.2","M-0.9,-0.9L0.9,-0.9L0.9,0.9L-0.9,0.9Z","M0,-1.3L0,1.3M-1.15,-0.65L1.15,0.65M-1.15,0.65L1.15,-0.65","M-0.7,-0.4L0.7,-0.4L0.7,0.4L-0.7,0.4Z","circle"]},
   "legend": {"title": null, "orient": "none", "legendX": 532, "legendY": 2, "values": ["LC34","PQ12","LC65","LC48","LC16","PQ11","LC40"], "symbolSize": 100, "symbolStrokeWidth": 1, "symbolStrokeColor": "#333", "symbolFillColor": "#fff", "symbolOffset": 14.25, "labelOffset": 21.25, "rowPadding": 11.5, "padding": 3, "labelFont": "Liberation Sans", "labelFontSize": 15.5, "labelOpacity": 0, "labelExpr": "' '"}},
  "fill": {"field": "s", "type": "nominal", "scale": {"domain": ["LC34","PQ12","LC65","LC48","LC16","PQ11","LC40","_"], "range": ["#c8c8c8","white","black","white","white","white","black","white"]}},
  "stroke": {"field": "s", "type": "nominal"}}},
{"data": {"name": "mo12"}, "mark": {"type": "point", "shape": "M0,-1.2L1,0L0,1.2L-1,0Z", "size": 100, "fill": "white", "stroke": "#111", "strokeWidth": 1, "opacity": 1},
 "encoding": {
  "x": {"field": "el", "type": "nominal"},
  "y": {"field": "v", "type": "quantitative", "scale": {"type": "log", "domain": [0.1, 1000]}}}},
{"data": {"name": "note"}, "mark": {"type": "text", "align": "left", "baseline": "middle", "dx": 6, "font": "Liberation Sans", "fontSize": 13.5, "color": "#222"},
 "encoding": {"x": {"datum": "Cs"}, "y": {"datum": 0.195, "scale": {"type": "log", "domain": [0.1, 1000]}}, "text": {"field": "t"}}},
{"data": {"name": "note"}, "mark": {"type": "rule", "color": "#222", "strokeWidth": 1, "xOffset": 11, "x2Offset": -8},
 "encoding": {"x": {"datum": "Th"}, "x2": {"datum": "U"}, "y": {"datum": 0.34, "scale": {"type": "log", "domain": [0.1, 1000]}}, "y2": {"datum": 3.4}}},
{"data": {"name": "note"}, "mark": {"type": "point", "shape": "triangle-up", "filled": true, "color": "#222", "size": 30, "angle": 10, "xOffset": -8, "opacity": 1},
 "encoding": {"x": {"datum": "U"}, "y": {"datum": 3.4, "scale": {"type": "log", "domain": [0.1, 1000]}}}},
{"data": {"name": "note"}, "mark": {"type": "text", "text": "(d)\u00a0\u00a0\u00a0\u00a0\u00a0\u00a0\u00a0\u00a0\u00a0\u00a0\u00a0\u00a0\u00a0\u00a0\u00a0\u00a0Gabro Puente Quemado", "align": "left", "baseline": "middle", "dx": 7, "font": "Liberation Sans", "fontSize": 17, "color": "#000"},
 "encoding": {"x": {"datum": "U"}, "y": {"datum": 507, "scale": {"type": "log", "domain": [0.1, 1000]}}}}
]
}
]
}
